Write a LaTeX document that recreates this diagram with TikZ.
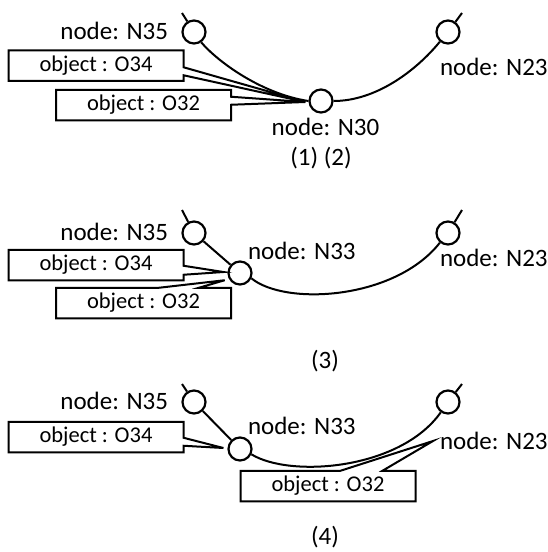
\documentclass[tikz,border=0pt]{standalone}
\usepackage{fontspec}
\setmainfont{Carlito}
\usetikzlibrary{calc}
\begin{document}
\begin{tikzpicture}[x=1pt,y=-1pt,
  line width=2pt,
  vtx/.style={circle,draw,line width=2.2pt,minimum size=23pt,inner sep=0pt},
  lab/.style={font=\fontsize{25}{28}\selectfont,inner sep=0pt},
  captxt/.style={font=\fontsize{25}{28}\selectfont,inner sep=0pt},
  obj/.style={font=\fontsize{22.5}{26}\selectfont,inner sep=0pt,minimum width=173pt,minimum height=28.5pt}]
\useasboundingbox (0,0) rectangle (548,552);
% ---------- panel 1 ----------
\node[vtx] (a35) at (194,32) {};
\node[vtx] (a23) at (448,32) {};
\node[vtx] (a30) at (321,101) {};
\coordinate (a35t) at (182,13);
\coordinate (a23t) at (462,13);
\draw (a35t) -- (a35);
\draw (a23t) -- (a23);
\draw (a35.-55) .. controls (218,62) and (262,94) .. (a30.west);
\draw (a30.east) .. controls (375,101) and (415,72) .. (a23.-130);
\node[lab,anchor=east] (la35) at (169,31) {node: N35};
\node[lab,anchor=west] (la23) at (439,67) {node: N23};
\node[lab] (la30) at (325.5,127) {node: N30};
\node[captxt] (ca) at (321,158.5) {(1) (2)};
\node[obj] (a34) at (96,65.5) {object : O34};
\node[obj] (a32) at (143.5,105) {object : O32};
\coordinate (ta) at ($(a30.west)+(-3,1)$);
\draw (a34.north west) -- (a34.north east) -- ([yshift=-17pt]a34.north east) -- (ta) -- ([yshift=-25pt]a34.north east) -- (a34.south east) -- (a34.south west) -- cycle;
\draw (a32.north west) -- (a32.north east) -- ([yshift=-7pt]a32.north east) -- (ta) -- ([yshift=-15pt]a32.north east) -- (a32.south east) -- (a32.south west) -- cycle;
% ---------- panel 2 ----------
\node[vtx] (b35) at (194,233) {};
\node[vtx] (b23) at (448,233) {};
\node[vtx] (b33) at (240,273) {};
\coordinate (b35t) at (182,210);
\coordinate (b23t) at (462,210);
\draw (b35t) -- (b35);
\draw (b23t) -- (b23);
\draw (b35) -- (b33);
\draw (b33.-25) .. controls (285,306) and (395,300) .. (b23.-130);
\node[lab,anchor=east] (lb35) at (169,232) {node: N35};
\node[lab,anchor=west] (lb33) at (247,251) {node: N33};
\node[lab,anchor=west] (lb23) at (439,258) {node: N23};
\node[captxt] (cb) at (325,361) {(3)};
\node[obj] (b34) at (96,265) {object : O34};
\node[obj] (b32) at (143.5,303) {object : O32};
\coordinate (tb1) at ($(b33.west)+(-4,-1)$);
\coordinate (tb2) at ($(b33.215)+(-5,0)$);
\draw (b34.north west) -- (b34.north east) -- ([yshift=-16pt]b34.north east) -- (tb1) -- ([yshift=-25pt]b34.north east) -- (b34.south east) -- (b34.south west) -- cycle;
\draw (b32.north west) -- ([xshift=103pt]b32.north west) -- (tb2) -- ([xshift=143pt]b32.north west) -- (b32.north east) -- (b32.south east) -- (b32.south west) -- cycle;
% ---------- panel 3 ----------
\node[vtx] (c35) at (194,402) {};
\node[vtx] (c23) at (448,402) {};
\node[vtx] (c33) at (240,449) {};
\coordinate (c35t) at (182,384);
\coordinate (c23t) at (462,384);
\draw (c35t) -- (c35);
\draw (c23t) -- (c23);
\draw (c35) -- (c33);
\draw (c33.-25) .. controls (290,478) and (400,470) .. (c23.-125);
\node[lab,anchor=east] (lc35) at (169,401) {node: N35};
\node[lab,anchor=west] (lc33) at (247,426) {node: N33};
\node[lab,anchor=west] (lc23) at (439,441) {node: N23};
\node[captxt] (cc) at (325,537) {(4)};
\node[obj] (c34) at (96,437) {object : O34};
\node[obj] (c32) at (328,486) {object : O32};
\coordinate (tc1) at ($(c33.west)+(-4,-1)$);
\coordinate (tc2) at (433,441);
\draw (c34.north west) -- (c34.north east) -- ([yshift=-16pt]c34.north east) -- (tc1) -- ([yshift=-24pt]c34.north east) -- (c34.south east) -- (c34.south west) -- cycle;
\draw (c32.north west) -- ([xshift=100pt]c32.north west) -- (tc2) -- ([xshift=142pt]c32.north west) -- (c32.north east) -- (c32.south east) -- (c32.south west) -- cycle;
\end{tikzpicture}
\end{document}
